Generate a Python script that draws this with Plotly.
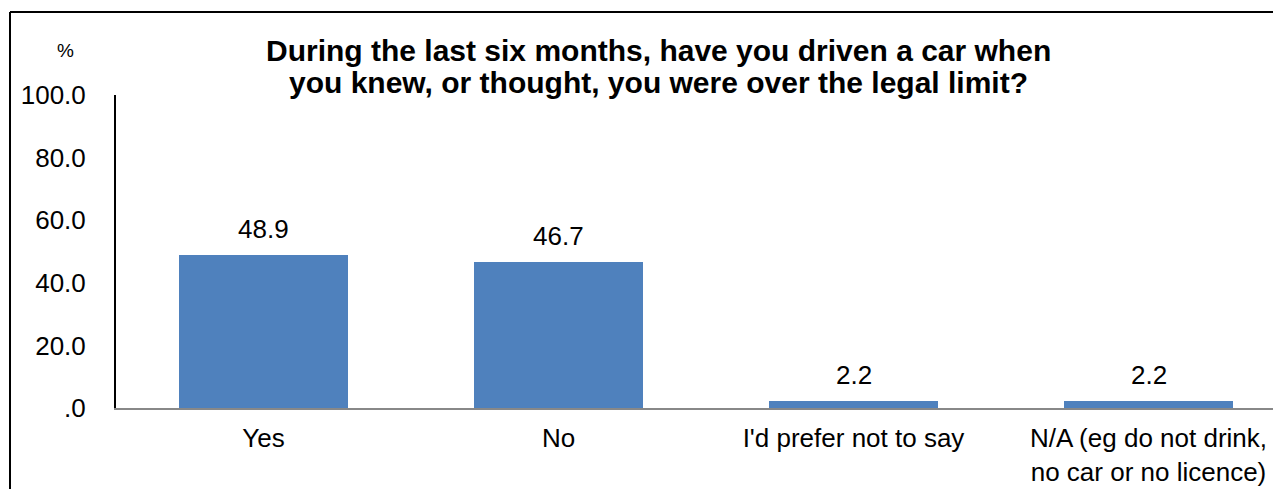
import plotly.graph_objects as go

categories = ["Yes", "No", "I'd prefer not to say", "N/A (eg do not drink,<br>no car or no licence)"]
values = [48.9, 46.7, 2.2, 2.2]
value_labels = ["48.9", "46.7", "2.2", "2.2"]
tick_vals = [0, 20, 40, 60, 80, 100]
tick_text = [".0", "20.0", "40.0", "60.0", "80.0", "100.0"]
title_lines = ["During the last six months, have you driven a car when",
               "you knew, or thought, you were over the legal limit?"]

OFF = 8  # page body margin
W, H = 1281, 489
L, R, T, B = 116 - OFF, 0, 95 - OFF, H - (408 - OFF)
pw = W - L - R
ph = H - T - B
step = 295.0
x_hi = -0.5 + pw / step

def px_x(p):  # screenshot px -> paper
    return (p - OFF - L) / pw

def px_y(p):
    return (H - B - (p - OFF)) / ph

fig = go.Figure()
fig.add_trace(go.Bar(
    x=list(range(len(categories))), y=values,
    marker=dict(color="#4F81BD", line=dict(width=0)),
    width=0.57, hoverinfo="skip",
))

font = "Liberation Sans, Arial, sans-serif"
for i, (v, t) in enumerate(zip(values, value_labels)):
    fig.add_annotation(x=i, y=v, text=t, showarrow=False, yanchor="bottom",
                       yshift=9, font=dict(family=font, size=26, color="#000"))

for ln, yy in zip(title_lines, [50, 83]):
    fig.add_annotation(xref="paper", yref="paper", x=px_x(658), y=px_y(yy),
                       text="<b>" + ln + "</b>", showarrow=False,
                       xanchor="center", yanchor="middle",
                       font=dict(family=font, size=30, color="#000"))
fig.add_annotation(xref="paper", yref="paper", x=px_x(65), y=px_y(50),
                   text="%", showarrow=False, xanchor="center", yanchor="middle",
                   font=dict(family=font, size=19, color="#000"))

# outer border (top and left edges)
fig.add_shape(type="line", xref="paper", yref="paper",
              x0=px_x(10), x1=px_x(W + 20), y0=px_y(12), y1=px_y(12),
              line=dict(color="#000", width=2))
fig.add_shape(type="line", xref="paper", yref="paper",
              x0=px_x(10), x1=px_x(10), y0=px_y(12), y1=px_y(H + 20),
              line=dict(color="#000", width=2))

fig.update_layout(
    width=W, height=H,
    margin=dict(l=L, r=R, t=T, b=B),
    paper_bgcolor="white", plot_bgcolor="white",
    showlegend=False,
    bargap=0,
    font=dict(family=font, size=26, color="#000"),
)
fig.update_xaxes(
    range=[-0.5, x_hi], tickmode="array",
    tickvals=list(range(len(categories))), ticktext=categories,
    showgrid=False, zeroline=False,
    showline=True, linecolor="#888888", linewidth=2,
    ticks="", tickfont=dict(family=font, size=26, color="#000"),
    ticklabelstandoff=6,
)
fig.update_yaxes(
    range=[0, 100], tickmode="array", tickvals=tick_vals, ticktext=tick_text,
    showgrid=False, zeroline=False,
    showline=True, linecolor="#000", linewidth=2,
    ticks="", tickfont=dict(family=font, size=26, color="#000"),
    ticklabelstandoff=23,
)

fig.write_html("out.html")
